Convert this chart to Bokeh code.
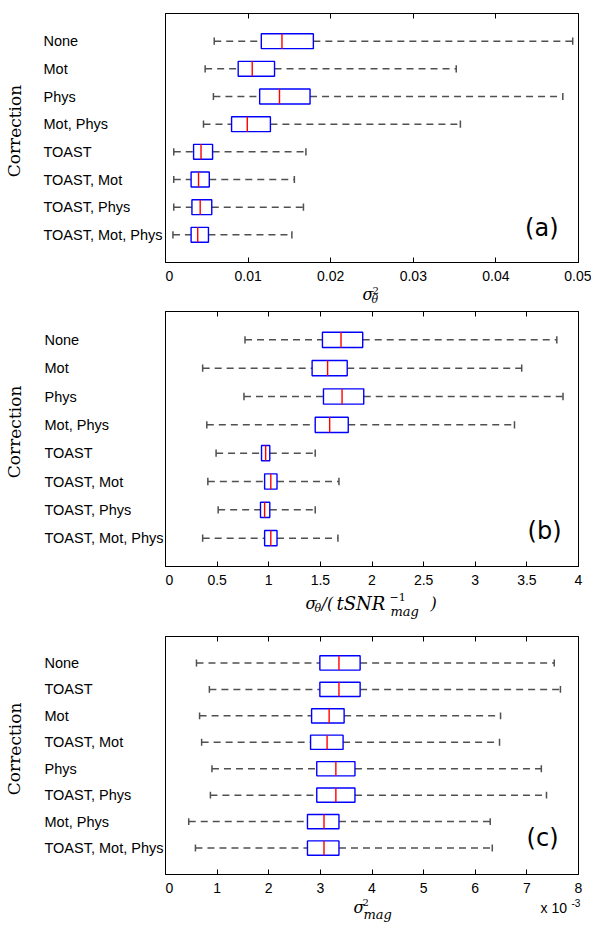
from bokeh.plotting import figure
from bokeh.layouts import column, row
from bokeh.models import (Range1d, FixedTicker, CustomJSTickFormatter, LinearAxis,
                          Label, ColumnDataSource)
from bokeh.embed import file_html
from bokeh.resources import INLINE

# ---------------- data ----------------
names_ab = ["None", "Mot", "Phys", "Mot, Phys", "TOAST", "TOAST, Mot",
            "TOAST, Phys", "TOAST, Mot, Phys"]
names_c = ["None", "TOAST", "Mot", "TOAST, Mot", "Phys", "TOAST, Phys",
           "Mot, Phys", "TOAST, Mot, Phys"]

# panel (a): sigma_theta^2
a_low = [0.0059, 0.0048, 0.0058, 0.0046, 0.0010, 0.0010, 0.0010, 0.0009]
a_q1 = [0.0116, 0.0088, 0.0114, 0.0080, 0.0034, 0.0031, 0.0032, 0.0031]
a_med = [0.0141, 0.0105, 0.0138, 0.0099, 0.0043, 0.0040, 0.0042, 0.0039]
a_q3 = [0.0179, 0.0132, 0.0175, 0.0127, 0.0057, 0.0053, 0.0056, 0.0052]
a_high = [0.0493, 0.0352, 0.0481, 0.0357, 0.0170, 0.0156, 0.0167, 0.0153]
a_ticks = [0, 0.01, 0.02, 0.03, 0.04, 0.05]

# panel (b): sigma_theta / (tSNR^-1_mag)
b_low = [0.77, 0.36, 0.76, 0.40, 0.49, 0.41, 0.51, 0.36]
b_q1 = [1.52, 1.42, 1.53, 1.45, 0.93, 0.96, 0.92, 0.96]
b_med = [1.70, 1.57, 1.71, 1.59, 0.97, 1.02, 0.96, 1.02]
b_q3 = [1.91, 1.76, 1.92, 1.77, 1.01, 1.08, 1.01, 1.08]
b_high = [3.79, 3.45, 3.85, 3.38, 1.45, 1.68, 1.45, 1.67]
b_ticks = [0, 0.5, 1, 1.5, 2, 2.5, 3, 3.5, 4]

# panel (c): sigma_mag^2, in units of 1e-3
c_low = [0.60, 0.85, 0.66, 0.70, 0.90, 0.87, 0.45, 0.58]
c_q1 = [2.99, 2.99, 2.83, 2.81, 2.93, 2.93, 2.75, 2.75]
c_med = [3.36, 3.36, 3.17, 3.13, 3.30, 3.30, 3.07, 3.07]
c_q3 = [3.77, 3.77, 3.46, 3.44, 3.67, 3.67, 3.36, 3.36]
c_high = [7.53, 7.65, 6.49, 6.47, 7.28, 7.38, 6.29, 6.33]
c_ticks = [0, 1, 2, 3, 4, 5, 6, 7, 8]

BOX_H = 0.27
CAP_H = 0.13
LEFT_W = 165
MAIN_W = 413
RIGHT_B = 13
BOT_B = 24
STRIP_W = LEFT_W + MAIN_W + RIGHT_B
fmt = CustomJSTickFormatter(code="return String(+tick.toFixed(6));")


def blank(w, h, y_range=None, top=0, bottom=0):
    kw = {}
    if y_range is not None:
        kw["y_range"] = y_range
    f = figure(frame_width=w, frame_height=h, min_border=0,
               min_border_top=top, min_border_bottom=bottom,
               x_axis_location=None, y_axis_location=None,
               output_backend="svg", toolbar_location=None, tools="", **kw)
    f.grid.visible = False
    f.outline_line_color = None
    f.background_fill_color = "white"
    f.border_fill_color = "white"
    return f


def slab(f, text, x, y, size, font="Liberation Sans", style="normal",
         align="left", angle=0.0, y_units="screen"):
    f.add_layout(Label(x=x, y=y, x_units="screen", y_units=y_units, text=text,
                       text_font=font, text_font_size=f"{size}px",
                       text_font_style=style, text_align=align,
                       text_baseline="middle", angle=angle,
                       text_color="black"))


def panel(names, low, q1, med, q3, high, ticks, frame_h, top, letter,
          letter_dx, letter_dy, name_x):
    xmax = ticks[-1]
    p = figure(frame_width=MAIN_W, frame_height=frame_h,
               min_border_left=0, min_border_right=RIGHT_B,
               min_border_top=top, min_border_bottom=BOT_B,
               x_range=Range1d(0, xmax), y_range=Range1d(9, 0),
               y_axis_location=None, output_backend="svg",
               toolbar_location=None, tools="")
    p.grid.visible = False
    p.outline_line_color = "black"
    p.outline_line_width = 1
    p.background_fill_color = "white"
    p.border_fill_color = "white"

    ax = p.xaxis[0]
    ax.ticker = FixedTicker(ticks=ticks)
    ax.formatter = fmt
    ax.major_tick_in = 5
    ax.major_tick_out = 0
    ax.minor_tick_line_color = None
    ax.major_label_standoff = 8
    ax.major_label_text_font = "Liberation Sans"
    ax.major_label_text_font_size = "14px"
    ax.major_label_text_color = "black"
    ax.axis_line_color = "black"

    # top axis: inward ticks only, no labels
    topax = LinearAxis(ticker=FixedTicker(ticks=ticks), major_tick_in=5,
                       major_tick_out=0, major_label_text_font_size="0px",
                       major_label_text_color=None,
                       major_label_standoff=0, minor_tick_line_color=None,
                       axis_line_color="black")
    p.add_layout(topax, "above")

    rows = [i + 1 for i in range(len(names))]
    src = ColumnDataSource(dict(
        y=rows, low=low, q1=q1, med=med, q3=q3, high=high,
        ytop=[r - BOX_H for r in rows], ybot=[r + BOX_H for r in rows],
        ctop=[r - CAP_H for r in rows], cbot=[r + CAP_H for r in rows]))

    wcol = "#505050"
    p.segment(x0="low", y0="y", x1="q1", y1="y", source=src,
              line_color=wcol, line_width=1.5, line_dash="7 5")
    p.segment(x0="q3", y0="y", x1="high", y1="y", source=src,
              line_color=wcol, line_width=1.5, line_dash="7 5")
    p.segment(x0="low", y0="ctop", x1="low", y1="cbot", source=src,
              line_color=wcol, line_width=1.5)
    p.segment(x0="high", y0="ctop", x1="high", y1="cbot", source=src,
              line_color=wcol, line_width=1.5)
    p.quad(left="q1", right="q3", top="ytop", bottom="ybot", source=src,
           fill_color=None, line_color="#0000ff", line_width=1.4)
    p.segment(x0="med", y0="ytop", x1="med", y1="ybot", source=src,
              line_color="#ff0000", line_width=1.4)

    # panel letter inside the frame
    p.add_layout(Label(x=letter_dx, y=frame_h - letter_dy, x_units="screen",
                       y_units="screen", text=letter, text_font="DejaVu Sans",
                       text_font_size="24px", text_align="right",
                       text_baseline="middle", text_color="black"))

    # left strip (frame aligned with the main frame) with category names
    lf = blank(LEFT_W, frame_h, y_range=p.y_range, top=top, bottom=BOT_B)
    for i, n in enumerate(names):
        slab(lf, n, name_x, rows[i], 14.5, y_units="data")
    slab(lf, "Correction", 14, 4.25, 17, font="DejaVu Serif", align="center",
         angle=1.5707963, y_units="data")
    return row(lf, p), top + frame_h + BOT_B


def mlab(f, ftop, fh, text, px, py, size, style="italic", font="DejaVu Serif"):
    slab(f, text, px, ftop + fh - py, size, font=font, style=style)


# ---------------- panel (a) ----------------
ra, ha = panel(names_ab, a_low, a_q1, a_med, a_q3, a_high, a_ticks, 249, 13,
               "(a)", 393, 214, 43)
sa_top, sa_h = ha, 20
sa = blank(STRIP_W, sa_h)
mlab(sa, sa_top, sa_h, "σ", 362, 294, 16)
mlab(sa, sa_top, sa_h, "2", 372, 290, 10, style="normal")
mlab(sa, sa_top, sa_h, "θ", 371, 299, 11)

# ---------------- panel (b) ----------------
rb, hb = panel(names_ab, b_low, b_q1, b_med, b_q3, b_high, b_ticks, 255, 5,
               "(b)", 396, 219, 44)
b_top = sa_top + sa_h
sb_top, sb_h = b_top + hb, 30
sb = blank(STRIP_W, sb_h)
mlab(sb, sb_top, sb_h, "σ", 305, 603, 16)
mlab(sb, sb_top, sb_h, "θ", 314, 608, 11)
mlab(sb, sb_top, sb_h, "/(", 321, 603, 16)
mlab(sb, sb_top, sb_h, "tSNR", 336, 603, 18)
mlab(sb, sb_top, sb_h, "−1", 389, 596, 11, style="normal")
mlab(sb, sb_top, sb_h, "mag", 390, 611, 13)
mlab(sb, sb_top, sb_h, ")", 430, 603, 16)

# ---------------- panel (c) ----------------
rc, hc = panel(names_c, c_low, c_q1, c_med, c_q3, c_high, c_ticks, 238, 16,
               "(c)", 393, 201, 44)
c_top = sb_top + sb_h
sc_top, sc_h = c_top + hc, 25
sc = blank(STRIP_W, sc_h)
mlab(sc, sc_top, sc_h, "σ", 353, 907, 16)
mlab(sc, sc_top, sc_h, "2", 362, 902, 10, style="normal")
mlab(sc, sc_top, sc_h, "mag", 363, 914, 13)
mlab(sc, sc_top, sc_h, "x 10", 540, 907, 14, style="normal",
     font="Liberation Sans")
mlab(sc, sc_top, sc_h, "-3", 571, 902, 10, style="normal",
     font="Liberation Sans")

layout = column(ra, sa, rb, sb, rc, sc)
open("out.html", "w").write(file_html(layout, INLINE))
